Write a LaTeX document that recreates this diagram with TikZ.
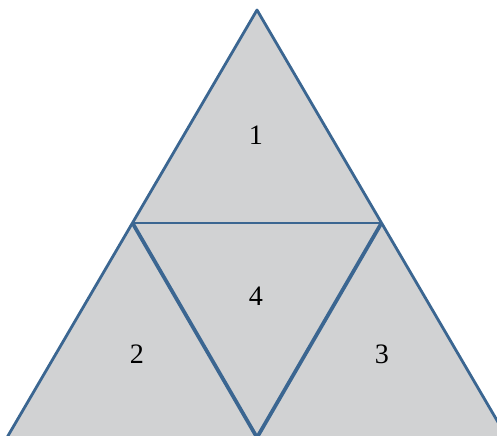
\documentclass[tikz,border=0pt]{standalone}
\usepackage{fontspec}
\setmainfont{Liberation Serif}
\usepackage{tikz}
\usetikzlibrary{positioning}
\definecolor{edgeblue}{RGB}{59,102,145}
\definecolor{facegray}{RGB}{209,210,211}

\begin{document}
\begin{tikzpicture}[
        x=0.03cm, y=-0.03cm,
        face/.style={fill=facegray, draw=edgeblue, line width=2.4pt, line join=round},
        midline/.style={draw=edgeblue, line width=2.4pt},
        inner_edge/.style={draw=edgeblue, line width=3.2pt},
        num/.style={font=\fontsize{24}{28}\selectfont, inner sep=0pt}
    ]

        \useasboundingbox (0,0) rectangle (497,435);
        \clip (0,0) rectangle (497,435);

        % ================= VERTICES =================
        \coordinate (apex) at (257,10);
        \coordinate (baseL) at (7,437.5);
        \coordinate (baseR) at (507,437.5);
        \coordinate (midL) at (132.5,223);
        \coordinate (midR) at (381.5,223);
        \coordinate (midB) at (257,437.5);

        % Outer triangle
        \path[face] (apex) -- (baseR) -- (baseL) -- cycle;

        % Subdivision
        \path[midline] (midL) -- (midR);
        \path[inner_edge] (midL) -- (midB) -- (midR);

        % Region numbers
        \node[num] (n1) at (256,135) {1};
        \node[num] (n4) at (256,296) {4};
        \node[num] (n2) at (137,354) {2};
        \node[num] (n3) at (382,354) {3};

    \end{tikzpicture}
\end{document}
